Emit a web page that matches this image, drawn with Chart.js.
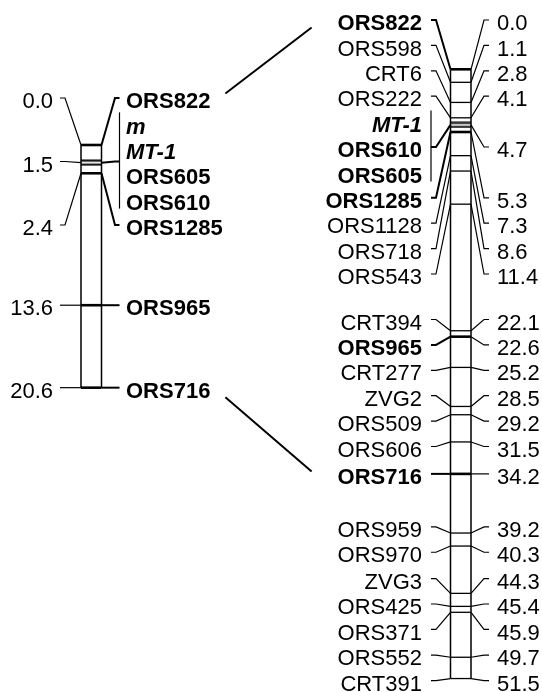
<!DOCTYPE html>
<html>
<head>
<meta charset="utf-8">
<script src="https://cdn.jsdelivr.net/npm/chart.js@4.4.0/dist/chart.umd.min.js"></script>
<style>
  html, body { margin: 0; padding: 0; background: #fff; }
  #wrap { width: 542px; height: 692px; position: relative; }
</style>
</head>
<body>
<div id="wrap"><canvas id="map"></canvas></div>
<script>
// Map data: positions in cM, marker names at each position
const LEFT_POS = [0.0, 1.5, 2.4, 13.6, 20.6];
const LEFT_NAMES = [['ORS822'], ['m', 'MT-1', 'ORS605', 'ORS610'], ['ORS1285'], ['ORS965'], ['ORS716']];

const RIGHT_POS = [0.0, 1.1, 2.8, 4.1, 4.7, 5.3, 7.3, 8.6, 11.4, 22.1, 22.6, 25.2, 28.5, 29.2, 31.5, 34.2,
  39.2, 40.3, 44.3, 45.4, 45.9, 49.7, 51.5];
const RIGHT_NAMES = [['ORS822'], ['ORS598'], ['CRT6'], ['ORS222'], ['MT-1', 'ORS610', 'ORS605'], ['ORS1285'],
  ['ORS1128'], ['ORS718'], ['ORS543'], ['CRT394'], ['ORS965'], ['CRT277'], ['ZVG2'], ['ORS509'], ['ORS606'],
  ['ORS716'], ['ORS959'], ['ORS970'], ['ZVG3'], ['ORS425'], ['ORS371'], ['ORS552'], ['CRT391']];

// shared markers are bold, the trait locus bold italic
const BOLD = ['ORS822', 'm', 'MT-1', 'ORS605', 'ORS610', 'ORS1285', 'ORS965', 'ORS716'];
const ITALIC = ['m', 'MT-1'];
const LINKED = ['ORS822', 'ORS716'];

// Layout
const FONT = '"Liberation Sans", Arial, sans-serif';
const FS = 22;
const ROW = 25.4;
const TOP = 20;

const MAPS = [
  { axis: 'yL', pos: LEFT_POS, names: LEFT_NAMES, x0: 81, x1: 101.5,
    nameSide: { dir: 1, diag: 13.5, tick: 4.5, gap: 6.5 },
    numSide: { dir: -1, diag: 16, tick: 5, gap: 7 } },
  { axis: 'yR', pos: RIGHT_POS, names: RIGHT_NAMES, x0: 450.5, x1: 471,
    nameSide: { dir: -1, diag: 14.5, tick: 5, gap: 9 },
    numSide: { dir: 1, diag: 13, tick: 5, gap: 8 } }
];

const isBold = list => list.some(n => BOLD.includes(n));
const isDouble = list => list.includes('MT-1');

// two thin lines for the trait locus
const dbl = document.createElement('canvas');
dbl.width = 21; dbl.height = 7;
(() => {
  const g = dbl.getContext('2d');
  g.strokeStyle = '#000'; g.lineWidth = 1.8;
  g.beginPath(); g.moveTo(0, 1.5); g.lineTo(21, 1.5); g.moveTo(0, 5.5); g.lineTo(21, 5.5); g.stroke();
})();

// push overlapping labels apart, each block centred on the mean of its markers
function spreadRows(want, gap, minTop) {
  let groups = want.map(y => ({ n: 1, sum: y, top: Math.max(minTop, y) }));
  let moved = true;
  while (moved) {
    moved = false;
    for (let i = 0; i < groups.length - 1; i++) {
      const a = groups[i], b = groups[i + 1];
      if (a.top + a.n * gap > b.top + 0.01) {
        const n = a.n + b.n, sum = a.sum + b.sum;
        const top = Math.max(minTop, sum / n - (n - 1) * gap / 2);
        groups.splice(i, 2, { n, sum, top });
        moved = true;
        break;
      }
    }
  }
  const rows = [];
  groups.forEach(g => { for (let j = 0; j < g.n; j++) rows.push(g.top + j * gap); });
  return rows;
}

function setFont(c, name) {
  const b = BOLD.includes(name) ? 'bold ' : '';
  const it = ITALIC.includes(name) ? 'italic ' : '';
  c.font = `${it}${b}${FS}px ${FONT}`;
}

function line(c, pts, w) {
  c.lineWidth = w;
  c.beginPath();
  pts.forEach((p, i) => i ? c.lineTo(p[0], p[1]) : c.moveTo(p[0], p[1]));
  c.stroke();
}

function drawMap(c, scale, m) {
  const px = m.pos.map(p => scale.getPixelForValue(p));
  const want = [];
  m.names.forEach((list, i) => list.forEach(() => want.push(px[i])));
  const rows = spreadRows(want, ROW, TOP);
  const found = {};
  let k = 0;
  m.pos.forEach((p, i) => {
    const list = m.names[i];
    const ys = rows.slice(k, k + list.length);
    k += list.length;
    const mid = (ys[0] + ys[ys.length - 1]) / 2;
    const bold = isBold(list);

    // names
    let s = m.nameSide;
    let edge = s.dir > 0 ? m.x1 : m.x0;
    let dx = edge + s.dir * s.diag, tx = dx + s.dir * s.tick;
    line(c, [[edge, px[i]], [dx, mid], [tx, mid]], bold ? 2 : 1.2);
    if (list.length > 1) line(c, [[tx, ys[0] - 11], [tx, ys[ys.length - 1] + 9]], 1.2);
    c.textAlign = s.dir > 0 ? 'left' : 'right';
    list.forEach((n, j) => {
      setFont(c, n);
      const x = tx + s.dir * s.gap;
      c.fillText(n, x, ys[j] + 10.2);
      const w = c.measureText(n).width;
      found[n] = { y: ys[j], x0: s.dir > 0 ? x : x - w, x1: s.dir > 0 ? x + w : x };
    });

    // positions
    s = m.numSide;
    edge = s.dir > 0 ? m.x1 : m.x0;
    dx = edge + s.dir * s.diag; tx = dx + s.dir * s.tick;
    line(c, [[edge, px[i]], [dx, mid], [tx, mid]], 1.2);
    c.font = `${FS}px ${FONT}`;
    c.textAlign = s.dir > 0 ? 'left' : 'right';
    c.fillText(p.toFixed(1), tx + s.dir * s.gap, mid + 10.2);
  });
  return found;
}

const labelPlugin = {
  id: 'maplabels',
  afterDatasetsDraw(chart) {
    const c = chart.ctx;
    c.save();
    c.strokeStyle = '#000';
    c.fillStyle = '#000';
    c.lineCap = 'butt';
    const [L, R] = MAPS.map(m => drawMap(c, chart.scales[m.axis], m));
    LINKED.forEach(n => {
      const a = L[n], b = R[n];
      const sg = Math.sign(b.y - a.y);
      line(c, [[a.x1 + 15, a.y + 2.5 + sg * 7], [b.x0 - 26, b.y + 2.5 - sg * 5]], 2);
    });
    c.restore();
  }
};

function outline(m, x) {
  return {
    type: 'line', yAxisID: m.axis, showLine: true, pointRadius: 0,
    borderColor: '#000', borderWidth: 1.5,
    data: [{ x, y: m.pos[0] }, { x, y: m.pos[m.pos.length - 1] }]
  };
}

function markers(m) {
  const cx = (m.x0 + m.x1) / 2;
  return {
    yAxisID: m.axis,
    data: m.pos.map(p => ({ x: cx, y: p })),
    pointStyle: ctx => isDouble(m.names[ctx.dataIndex]) ? dbl : 'line',
    pointRadius: (m.x1 - m.x0) / 2,
    pointBorderColor: '#000',
    pointBorderWidth: ctx => isBold(m.names[ctx.dataIndex]) ? 2.6 : 1.3
  };
}

const SL = 11.78, SR = 11.83, H = 692;

new Chart(document.getElementById('map'), {
  type: 'scatter',
  data: {
    datasets: [
      outline(MAPS[0], MAPS[0].x0), outline(MAPS[0], MAPS[0].x1),
      outline(MAPS[1], MAPS[1].x0), outline(MAPS[1], MAPS[1].x1),
      markers(MAPS[0]), markers(MAPS[1])
    ]
  },
  options: {
    responsive: true,
    maintainAspectRatio: false,
    animation: false,
    events: [],
    layout: { padding: 0, autoPadding: false },
    plugins: { legend: { display: false }, tooltip: { enabled: false } },
    scales: {
      x: { type: 'linear', min: 0, max: 542, display: false },
      yL: { type: 'linear', reverse: true, min: -145 / SL, max: (H - 145) / SL, display: false },
      yR: { type: 'linear', reverse: true, min: -69.3 / SR, max: (H - 69.3) / SR, display: false }
    }
  },
  plugins: [labelPlugin]
});
</script>
</body>
</html>
